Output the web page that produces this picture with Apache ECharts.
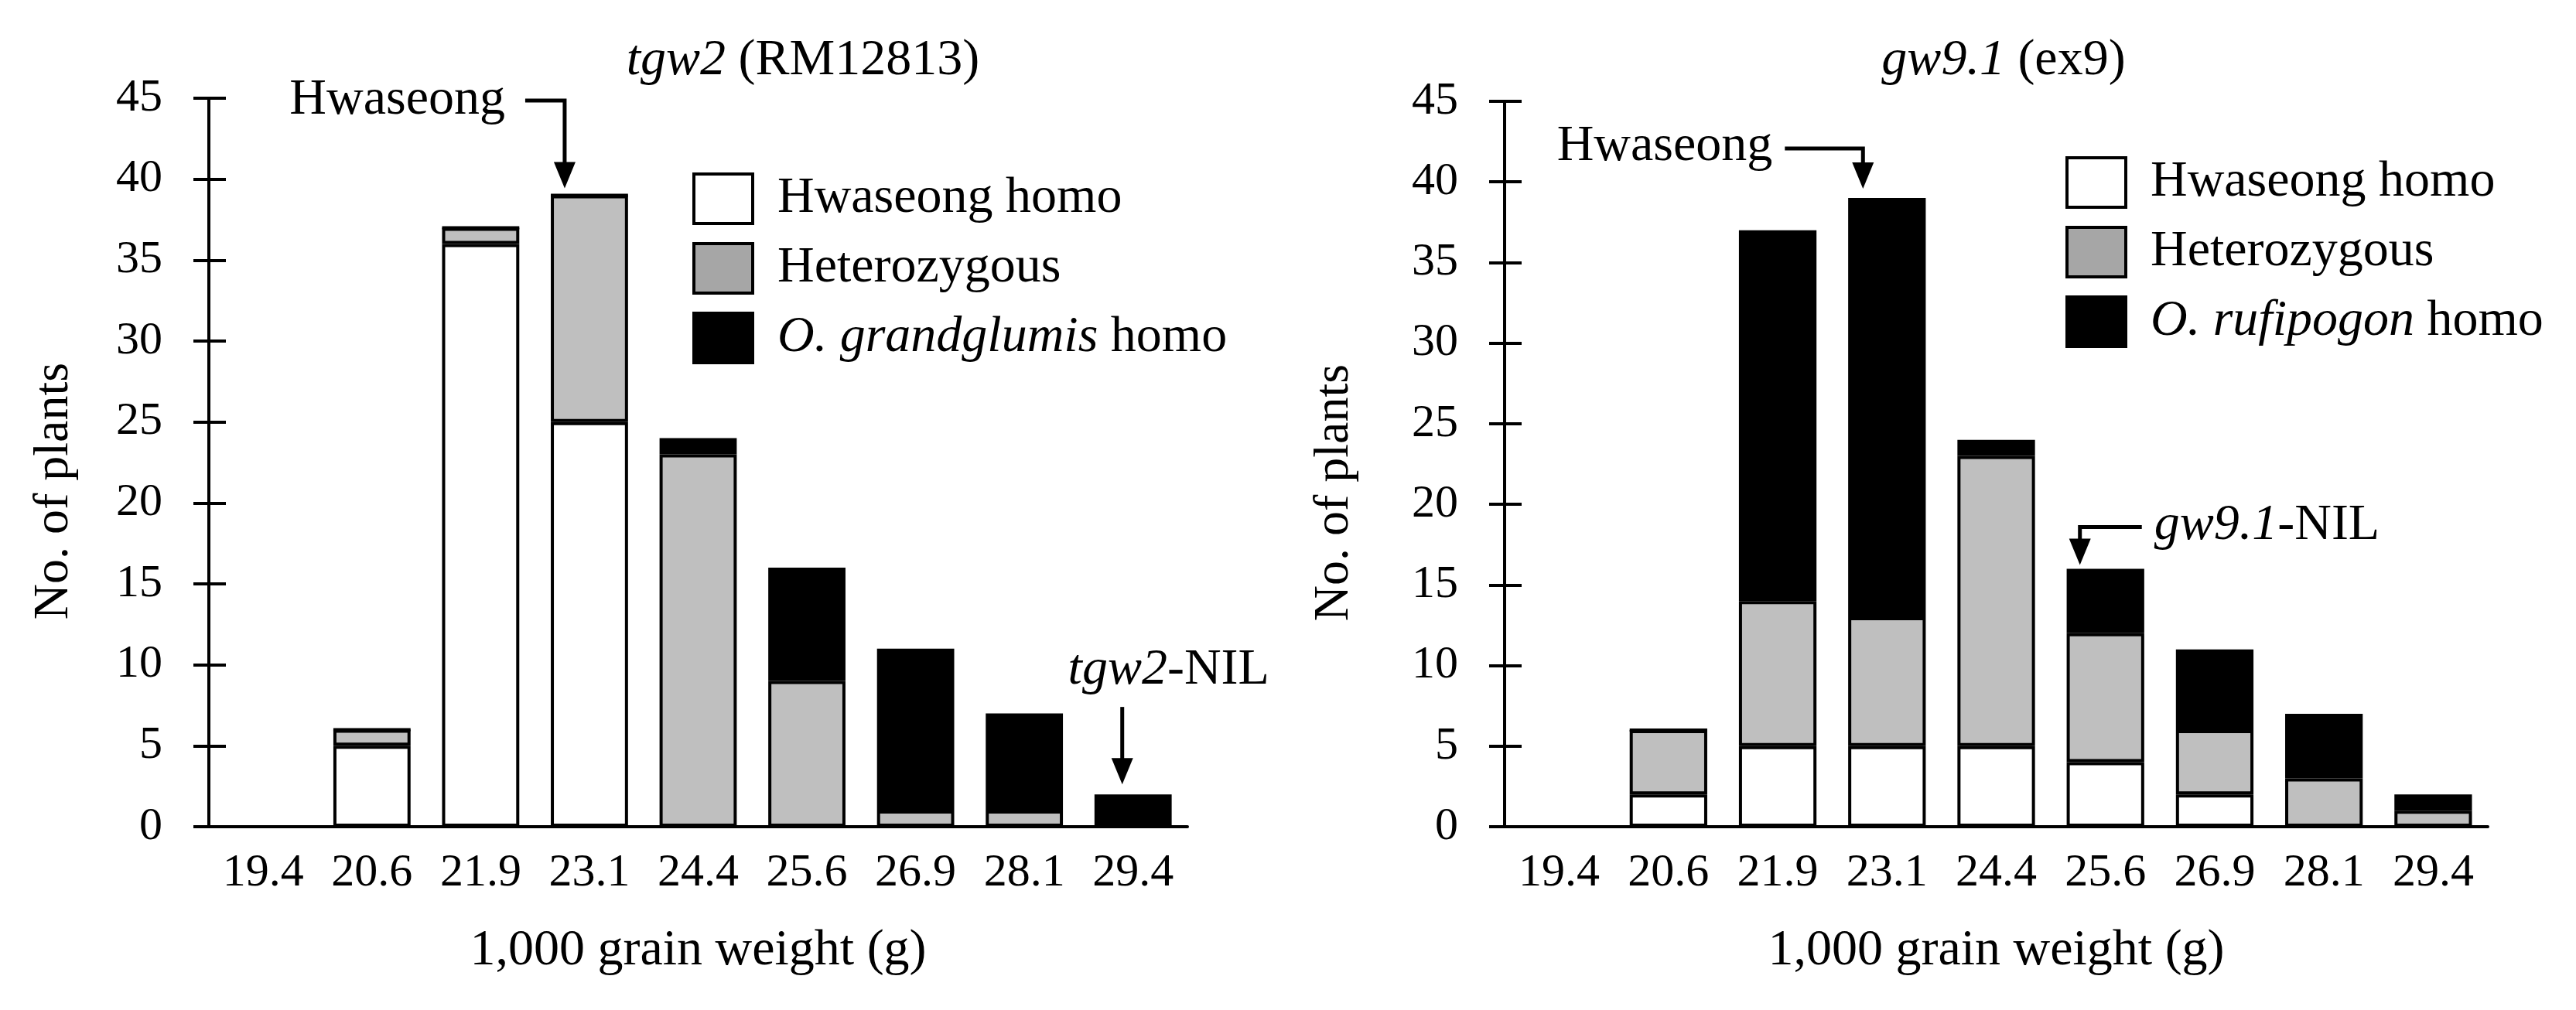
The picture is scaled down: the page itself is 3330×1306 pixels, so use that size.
<!DOCTYPE html>
<html><head><meta charset="utf-8">
<script src="https://cdn.jsdelivr.net/npm/echarts@6/dist/echarts.min.js"></script>
<style>html,body{margin:0;padding:0;background:#fff}#c{width:3330px;height:1306px}</style>
</head><body><div id="c"></div>
<script>
// ---------- data ----------
const categories = ['19.4','20.6','21.9','23.1','24.4','25.6','26.9','28.1','29.4'];
const yMin = 0, yMax = 45, yStep = 5;
// tgw2 (RM12813)
const tgw2Hwaseong = [0, 5, 36, 25, 0, 0, 0, 0, 0];
const tgw2Hetero   = [0, 1, 1, 14, 23, 9, 1, 1, 0];
const tgw2Grand    = [0, 0, 0, 0, 1, 7, 10, 6, 2];
// gw9.1 (ex9)
const gw91Hwaseong = [0, 2, 5, 5, 5, 4, 2, 0, 0];
const gw91Hetero   = [0, 4, 9, 8, 18, 8, 4, 3, 1];
const gw91Rufi     = [0, 0, 23, 26, 1, 4, 5, 4, 1];

const nameHw = 'Hwaseong homo', nameHet = 'Heterozygous',
      nameGr = 'O. grandglumis homo', nameRu = 'O. rufipogon homo';

// ---------- style ----------
const FONT = "'Liberation Serif','Times New Roman',serif";
const C_WHITE = '#ffffff', C_GRAY = '#bfbfbf', C_GRAY_LEG = '#a6a6a6', C_BLACK = '#000000';

const chart = echarts.init(document.getElementById('c'), null, {renderer: 'canvas'});

function xAxis(gi) {
  return {
    type: 'category', gridIndex: gi, data: categories, boundaryGap: true,
    axisLine: {show: true, lineStyle: {color: '#000', width: 4}},
    axisTick: {show: false},
    axisLabel: {color: '#000', fontFamily: FONT, fontSize: 60, margin: 30, interval: 0},
    name: '1,000 grain weight (g)', nameLocation: 'middle', nameGap: 128,
    nameTextStyle: {color: '#000', fontFamily: FONT, fontSize: 66}
  };
}
function yAxisMain(gi, gap) {
  return {
    type: 'value', gridIndex: gi, min: yMin, max: yMax, interval: yStep,
    splitLine: {show: false},
    axisLine: {show: true, lineStyle: {color: '#000', width: 4}},
    axisTick: {show: true, inside: false, length: 20, lineStyle: {color: '#000', width: 4}},
    axisLabel: {color: '#000', fontFamily: FONT, fontSize: 60, margin: 60},
    name: 'No. of plants', nameLocation: 'middle', nameGap: gap, nameRotate: 90,
    nameTextStyle: {color: '#000', fontFamily: FONT, fontSize: 64, padding: [0, 74, 0, 0]}
  };
}
function yAxisInner(gi) {
  return {
    type: 'value', gridIndex: gi, min: yMin, max: yMax, interval: yStep, position: 'left',
    splitLine: {show: false}, axisLine: {show: false}, axisLabel: {show: false},
    axisTick: {show: true, inside: true, length: 22, lineStyle: {color: '#000', width: 4}}
  };
}
function bar(name, data, xi, yi, stack, color) {
  return {
    type: 'bar', name, data, xAxisIndex: xi, yAxisIndex: yi, stack,
    barWidth: '71%',
    itemStyle: {color, borderColor: '#000', borderWidth: 4},
    emphasis: {disabled: true}, animation: false
  };
}
const richLegend = {
  i: {fontStyle: 'italic', fontFamily: FONT, fontSize: 66, color: '#000', lineHeight: 64}
};
function legendFmt(name) {
  if (name.indexOf('O. ') === 0) {
    const sp = name.replace(' homo', '');
    return '{i|' + sp + '} homo';
  }
  return name;
}
function legend(left, top, third) {
  return {
    orient: 'vertical', left, top, itemWidth: 76, itemHeight: 64, itemGap: 22,
    icon: 'rect', selectedMode: false,
    data: [
      {name: nameHw, itemStyle: {color: C_WHITE, borderColor: '#000', borderWidth: 4}},
      {name: nameHet, itemStyle: {color: C_GRAY_LEG, borderColor: '#000', borderWidth: 4}},
      {name: third, itemStyle: {color: C_BLACK, borderColor: '#000', borderWidth: 4}}
    ],
    formatter: legendFmt,
    textStyle: {color: '#000', fontFamily: FONT, fontSize: 66, lineHeight: 64, padding: [0, 0, 0, 27], rich: richLegend}
  };
}

chart.setOption({
  backgroundColor: '#fff',
  animation: false,
  grid: [
    {left: 270, right: 3330 - 1535, top: 127, bottom: 1306 - 1069, containLabel: false},
    {left: 1945, right: 3330 - 3216, top: 131, bottom: 1306 - 1069, containLabel: false}
  ],
  xAxis: [xAxis(0), xAxis(1)],
  yAxis: [yAxisMain(0, 168), yAxisInner(0), yAxisMain(1, 188), yAxisInner(1)],
  legend: [legend(890, 218, nameGr), legend(2665, 197, nameRu)],
  series: [
    bar(nameHw, tgw2Hwaseong, 0, 0, 'L', C_WHITE),
    bar(nameHet, tgw2Hetero, 0, 0, 'L', C_GRAY),
    bar(nameGr, tgw2Grand, 0, 0, 'L', C_BLACK),
    bar(nameHw, gw91Hwaseong, 1, 2, 'R', C_WHITE),
    bar(nameHet, gw91Hetero, 1, 2, 'R', C_GRAY),
    bar(nameRu, gw91Rufi, 1, 2, 'R', C_BLACK)
  ]
});

// ---------- titles and annotations ----------
function px(xi, yi, cat, val) {
  return chart.convertToPixel({xAxisIndex: xi, yAxisIndex: yi}, [cat, val]);
}
function total(arrs, i) { return arrs.reduce((s, a) => s + a[i], 0); }
const g = [];
function addText(text, x, y, align) {
  g.push({type: 'text', x, y, silent: true, style: {
    text, fill: '#000', font: '66px ' + FONT, align: align, verticalAlign: 'middle',
    rich: {i: {fontStyle: 'italic', fontFamily: FONT, fontSize: 66, fill: '#000'},
           n: {fontFamily: FONT, fontSize: 66, fill: '#000'}}
  }});
}
function arrowHead(x, y) {
  g.push({type: 'polygon', silent: true, shape: {points: [[x - 14, y - 34], [x + 14, y - 34], [x, y]]}, style: {fill: '#000'}});
}
function line(points) {
  g.push({type: 'polyline', silent: true, shape: {points}, style: {stroke: '#000', lineWidth: 5, fill: null}});
}

addText('{i|tgw2}{n| (RM12813)}', 1038, 79, 'center');
addText('{i|gw9.1}{n| (ex9)}', 2590, 79, 'center');

// Left: Hwaseong -> 23.1
(function () {
  const k = 3, v = total([tgw2Hwaseong, tgw2Hetero, tgw2Grand], k);
  const p = px(0, 0, categories[k], v);
  const tx = p[0] - 32, ty = p[1] - 9, ey = 130;
  line([[tx - 51, ey], [tx, ey], [tx, ty - 30]]);
  arrowHead(tx, ty);
  addText('{n|Hwaseong}', tx - 77, ey, 'right');
})();
// Left: tgw2-NIL -> 29.4
(function () {
  const k = 8, v = total([tgw2Hwaseong, tgw2Hetero, tgw2Grand], k);
  const p = px(0, 0, categories[k], v);
  const tx = p[0] - 14, ty = p[1] - 13;
  line([[tx, ty - 100], [tx, ty - 30]]);
  arrowHead(tx, ty);
  addText('{i|tgw2}{n|-NIL}', tx + 60, ty - 147, 'center');
})();
// Right: Hwaseong -> 23.1
(function () {
  const k = 3, v = total([gw91Hwaseong, gw91Hetero, gw91Rufi], k);
  const p = px(1, 2, categories[k], v);
  const tx = p[0] - 31, ty = p[1] - 12, ey = 192;
  line([[tx - 101, ey], [tx, ey], [tx, ty - 30]]);
  arrowHead(tx, ty);
  addText('{n|Hwaseong}', tx - 117, ey - 2, 'right');
})();
// Right: gw9.1-NIL -> 25.6
(function () {
  const k = 5, v = total([gw91Hwaseong, gw91Hetero, gw91Rufi], k);
  const p = px(1, 2, categories[k], v);
  const tx = p[0] - 33, ty = p[1] - 5, ey = ty - 49;
  line([[tx + 80, ey], [tx, ey], [tx, ty - 30]]);
  arrowHead(tx, ty);
  addText('{i|gw9.1}{n|-NIL}', tx + 96, ey - 2, 'left');
})();

chart.setOption({graphic: g});
</script>
</body></html>
